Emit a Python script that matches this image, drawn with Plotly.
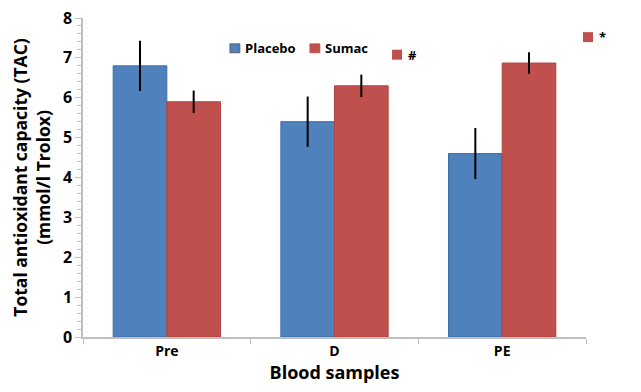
import plotly.graph_objects as go

categories = ["Pre", "D", "PE"]
placebo = [6.8, 5.4, 4.6]
placebo_err = [0.63, 0.63, 0.64]
sumac = [5.9, 6.3, 6.87]
sumac_err = [0.28, 0.28, 0.27]
marks = ["#", "*"]
mark_x = [1.373, 2.512]
mark_y = [7.08, 7.52]
series_names = ["Placebo", "Sumac"]

BLUE = "#4F81BD"
RED = "#C0504D"
FONT = "Open Sans"

# figure sits in the page with the default 8px body margin
W, H = 633, 384
L, R, T, B = 75, 55, 10, 55
PW, PH = W - L - R, H - T - B
YMAX = 8

fig = go.Figure()
fig.add_trace(go.Bar(name=series_names[0], x=categories, y=placebo,
                     marker=dict(color=BLUE, line=dict(color="#3c6ea8", width=1)),
                     error_y=dict(type="data", array=placebo_err, color="black", thickness=2, width=0)))
fig.add_trace(go.Bar(name=series_names[1], x=categories, y=sumac,
                     marker=dict(color=RED, line=dict(color="#b04440", width=1)),
                     error_y=dict(type="data", array=sumac_err, color="black", thickness=2, width=0)))

def px_w(p):
    return p / PW

def px_h(p):
    return p / PH

# significance marks (converted from data coords to paper coords so they are not clipped)
for m, xv, yv in zip(marks, mark_x, mark_y):
    xp = (xv + 0.5) / len(categories)
    yp = yv / YMAX
    fig.add_shape(type="rect", xref="paper", yref="paper",
                  x0=xp - px_w(5), x1=xp + px_w(5), y0=yp - px_h(5), y1=yp + px_h(5),
                  fillcolor=RED, line=dict(width=0))
    fig.add_annotation(x=xp + px_w(9), y=yp, xref="paper", yref="paper", text="<b>" + m + "</b>",
                       showarrow=False, xanchor="left", yanchor="middle",
                       font=dict(family=FONT, size=13, color="black"))

# manual legend
leg_x = [0.302, 0.461]
leg_y = 0.905
for name, col, lx in zip(series_names, [BLUE, RED], leg_x):
    fig.add_shape(type="rect", xref="paper", yref="paper",
                  x0=lx - px_w(5), x1=lx + px_w(5), y0=leg_y - px_h(4.5), y1=leg_y + px_h(4.5),
                  fillcolor=col, line=dict(color="#555555" if col == BLUE else col, width=0.8))
    fig.add_annotation(x=lx + px_w(8), y=leg_y, xref="paper", yref="paper", text="<b>" + name + "</b>",
                       showarrow=False, xanchor="left", yanchor="middle",
                       font=dict(family=FONT, size=13, color="black"))

fig.update_layout(
    width=W, height=H,
    margin=dict(l=L, r=R, t=T, b=B, autoexpand=False),
    paper_bgcolor="white", plot_bgcolor="white",
    barmode="group", bargap=0.36, bargroupgap=0,
    font=dict(family=FONT, color="black"),
    showlegend=False,
)
fig.update_xaxes(range=[-0.5, 2.5], automargin=False, showline=True, linecolor="#bfbfbf", linewidth=1.5,
                 ticks="outside", ticklen=5, tickcolor="#bfbfbf",
                 tickson="boundaries", tickfont=dict(family=FONT, size=14, weight="bold"),
                 title=dict(text="<b>Blood samples</b>", font=dict(family=FONT, size=18), standoff=7))
fig.update_yaxes(range=[0, YMAX], dtick=1, automargin=False, showgrid=False, zeroline=False, showline=True,
                 linecolor="#bfbfbf", linewidth=1.5, ticklabeloverflow="allow",
                 ticks="outside", ticklen=6, tickcolor="#bfbfbf",
                 minor=dict(dtick=0.2, ticks="outside", ticklen=4, tickcolor="#bfbfbf"),
                 tickfont=dict(family=FONT, size=16, weight="bold"),
                 title=dict(text="<b>Total antioxidant capacity (TAC)<br>(mmol/l Trolox)</b>",
                            font=dict(family=FONT, size=17.5), standoff=8))

fig.write_html("out.html")
